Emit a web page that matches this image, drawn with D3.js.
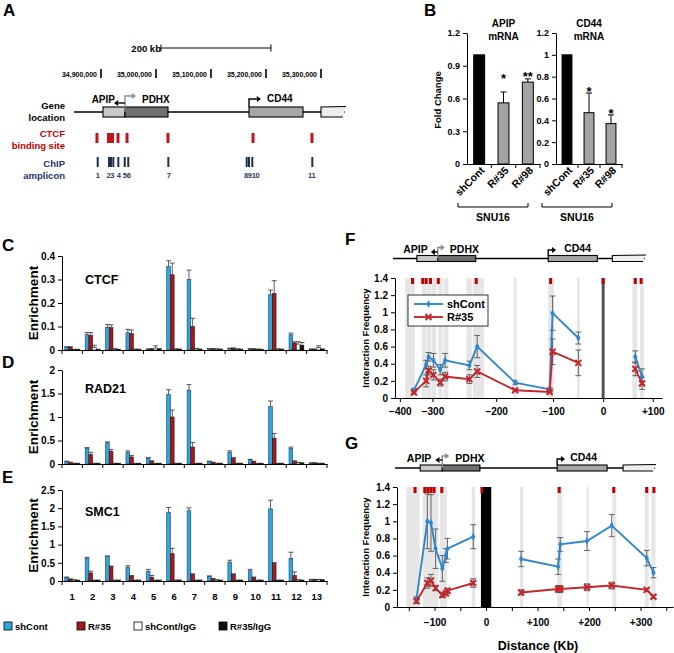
<!DOCTYPE html>
<html><head><meta charset="utf-8">
<script src="https://cdn.jsdelivr.net/npm/d3@7/dist/d3.min.js"></script>
<style>html,body{margin:0;padding:0;background:#fff;}svg{display:block;}</style>
</head><body>
<svg id="fig" width="674" height="653" xmlns="http://www.w3.org/2000/svg"></svg>
<script>
// ================= DATA =================
// Panel A : genomic map (bp)
const coordTicks = [34900000, 35000000, 35100000, 35200000, 35300000];
const scaleBarKb = 200;
const scaleBarStart = 35009000;
const geneNames = ["APIP", "PDHX", "CD44", ""];
const geneStart = [34903600, 34943600, 35169100, 35300000];
const geneEnd = [34943600, 35021800, 35267300, 35343600];
const locusSpan = [34850900, 35343600];
const ctcfSites = [34892700, 34913600, 34917300, 34921000, 34930900, 34947300, 35021800, 35176400, 35283600];
const ampliconPos = [34894000, 34914500, 34918200, 34922400, 34931500, 34943100, 34949600, 35022400, 35164900, 35169100, 35175100, 35284200];
const ampliconLabels = ["1", "23", "4", "56", "7", "8910", "11"];
const ampliconLabelPos = [34894000, 34917000, 34932000, 34946800, 35023000, 35174000, 35283000];

// Panel B : mRNA fold change
const bSamples = ["shCont", "R#35", "R#98"];
const apipFold = [1.0, 0.56, 0.75];
const apipErr = [0, 0.10, 0.03];
const apipSig = ["", "*", "**"];
const apipSigAt = [0, 0.80, 0.815];
const apipTicks = [0, 0.3, 0.6, 0.9, 1.2];
const cd44Fold = [1.0, 0.47, 0.37];
const cd44Err = [0, 0.18, 0.08];
const cd44Sig = ["", "*", "*"];
const cd44SigAt = [0, 0.68, 0.48];
const cd44Ticks = [0, 0.2, 0.4, 0.6, 0.8, 1.0, 1.2];
const cellLine = "SNU16";

// Panels C-E : ChIP enrichment at 13 amplicons
const groups = ["1", "2", "3", "4", "5", "6", "7", "8", "9", "10", "11", "12", "13"];
const seriesNames = ["shCont", "R#35", "shCont/IgG", "R#35/IgG"];
const ctcfTicks = [0, 0.1, 0.2, 0.3, 0.4];
const ctcfShCont = [0.012, 0.065, 0.097, 0.073, 0.003, 0.355, 0.300, 0.005, 0.006, 0.005, 0.235, 0.065, 0.003];
const ctcfShContErr = [0.002, 0.010, 0.012, 0.015, 0.002, 0.025, 0.040, 0.001, 0.002, 0.001, 0.020, 0.007, 0.002];
const ctcfR35 = [0.012, 0.062, 0.095, 0.070, 0.004, 0.320, 0.100, 0.005, 0.007, 0.004, 0.240, 0.030, 0.003];
const ctcfR35Err = [0.002, 0.012, 0.012, 0.015, 0.002, 0.050, 0.035, 0.001, 0.002, 0.001, 0.055, 0.005, 0.001];
const ctcfShContIgG = [0.002, 0.010, 0.004, 0.003, 0.008, 0.004, 0.005, 0.004, 0.004, 0.003, 0.004, 0.025, 0.010];
const ctcfShContIgGErr = [0.001, 0.010, 0.002, 0.001, 0.010, 0.001, 0.002, 0.001, 0.001, 0.001, 0.001, 0.010, 0.008];
const ctcfR35IgG = [0.002, 0.002, 0.002, 0.002, 0.004, 0.003, 0.003, 0.003, 0.003, 0.002, 0.003, 0.020, 0.003];
const ctcfR35IgGErr = [0.001, 0.001, 0.001, 0.001, 0.002, 0.001, 0.001, 0.001, 0.001, 0.001, 0.001, 0.012, 0.002];

const rad21Ticks = [0, 0.5, 1, 1.5, 2];
const rad21ShCont = [0.05, 0.33, 0.45, 0.25, 0.12, 1.48, 1.57, 0.05, 0.25, 0.09, 1.22, 0.33, 0.02];
const rad21ShContErr = [0.01, 0.02, 0.02, 0.03, 0.02, 0.10, 0.12, 0.01, 0.03, 0.01, 0.12, 0.03, 0.005];
const rad21R35 = [0.03, 0.20, 0.27, 0.15, 0.05, 1.00, 0.36, 0.03, 0.12, 0.05, 0.55, 0.05, 0.02];
const rad21R35Err = [0.01, 0.05, 0.04, 0.03, 0.02, 0.15, 0.10, 0.01, 0.02, 0.01, 0.10, 0.02, 0.005];
const rad21ShContIgG = [0.01, 0.01, 0.01, 0.01, 0.01, 0.01, 0.01, 0.01, 0.01, 0.01, 0.01, 0.03, 0.01];
const rad21ShContIgGErr = [0.005, 0.005, 0.005, 0.005, 0.005, 0.005, 0.005, 0.005, 0.005, 0.005, 0.005, 0.005, 0.005];
const rad21R35IgG = [0.01, 0.01, 0.01, 0.01, 0.01, 0.01, 0.01, 0.01, 0.01, 0.01, 0.01, 0.02, 0.01];
const rad21R35IgGErr = [0.005, 0.005, 0.005, 0.005, 0.005, 0.005, 0.005, 0.005, 0.005, 0.005, 0.005, 0.005, 0.005];

const smc1Ticks = [0, 0.5, 1, 1.5, 2, 2.5];
const smc1ShCont = [0.10, 0.63, 0.68, 0.38, 0.26, 1.88, 1.93, 0.13, 0.52, 0.28, 1.98, 0.62, 0.04];
const smc1ShContErr = [0.01, 0.02, 0.01, 0.04, 0.06, 0.14, 0.08, 0.01, 0.05, 0.04, 0.24, 0.17, 0.005];
const smc1R35 = [0.05, 0.22, 0.40, 0.14, 0.10, 0.75, 0.18, 0.06, 0.18, 0.10, 0.48, 0.15, 0.04];
const smc1R35Err = [0.01, 0.05, 0.01, 0.01, 0.05, 0.15, 0.02, 0.01, 0.02, 0.01, 0.03, 0.10, 0.005];
const smc1ShContIgG = [0.03, 0.02, 0.02, 0.02, 0.02, 0.02, 0.02, 0.03, 0.02, 0.02, 0.02, 0.03, 0.04];
const smc1ShContIgGErr = [0.005, 0.005, 0.005, 0.005, 0.005, 0.005, 0.005, 0.005, 0.005, 0.005, 0.005, 0.005, 0.005];
const smc1R35IgG = [0.02, 0.02, 0.02, 0.02, 0.02, 0.02, 0.02, 0.02, 0.02, 0.02, 0.02, 0.02, 0.03];
const smc1R35IgGErr = [0.005, 0.005, 0.005, 0.005, 0.005, 0.005, 0.005, 0.005, 0.005, 0.005, 0.005, 0.005, 0.005];

// Panels F-G : 3C interaction frequency (distance in kb from anchor)
const interTicks = [0, 0.2, 0.4, 0.6, 0.8, 1.0, 1.2, 1.4];
// F axis labels sit where the original figure put them (kb)
const fTickLabels = ["\u2212400", "\u2212300", "\u2212200", "\u2212100", "0", "+100"];
const fTickAt = [-418, -351, -220, -103, 0, 102];
const fKb = [-389, -364, -359, -349, -335, -325, -275, -259, -181, -110, -104, -51, 66, 80];
const fShCont = [0.09, 0.39, 0.48, 0.44, 0.33, 0.44, 0.38, 0.60, 0.18, 0.10, 0.99, 0.70, 0.48, 0.25];
const fShContErr = [0.02, 0.05, 0.05, 0.08, 0.06, 0.08, 0.05, 0.13, 0.02, 0.02, 0.20, 0.07, 0.07, 0.09];
const fR35 = [0.065, 0.20, 0.32, 0.27, 0.18, 0.25, 0.22, 0.31, 0.09, 0.07, 0.54, 0.41, 0.34, 0.17];
const fR35Err = [0.02, 0.07, 0.05, 0.06, 0.04, 0.05, 0.05, 0.07, 0.01, 0.01, 0.15, 0.15, 0.08, 0.07];
const fBandStart = [-407, -373, -362, -352, -339, -328, -281, -268, -184, -113, -54, 60, 76];
const fBandEnd = [-387, -363, -353, -343, -330, -318, -270, -245, -178, -101, -48, 70, 84];
const fCtcfMarks = [-392, -371, -364, -355, -339, -261, -108, 0, 66, 78];
const fGeneStart = [-383, -340, -113, 19];
const fGeneEnd = [-340, -262, -12, 86];
const fLocus = [-432, 86];

const gXTicks = [-150, -100, -50, 0, 50, 100, 150, 200, 250, 300, 350];
const gKb = [-135, -114, -107, -98, -85, -78, -75, -25, 68, 140, 144, 196, 244, 312, 325];
const gShCont = [0.10, 1.00, 0.98, 0.68, 0.45, 0.60, 0.68, 0.82, 0.56, 0.47, 0.73, 0.77, 0.95, 0.57, 0.40];
const gShContErr = [0.02, 0.32, 0.33, 0.23, 0.15, 0.08, 0.12, 0.14, 0.09, 0.09, 0.08, 0.11, 0.13, 0.09, 0.06];
const gR35 = [0.07, 0.28, 0.31, 0.22, 0.14, 0.16, 0.19, 0.28, 0.17, 0.21, 0.21, 0.23, 0.25, 0.20, 0.12];
const gR35Err = [0.03, 0.06, 0.07, 0.03, 0.03, 0.03, 0.03, 0.05, 0.03, 0.04, 0.04, 0.04, 0.04, 0.02, 0.02];
const gBandStart = [-155, -123, -90, -28, 66, 138, 195, 245, 308, 321];
const gBandEnd = [-129, -93, -76, -21, 72, 148, 199, 253, 316, 329];
const gCtcfMarks = [-138, -119, -113, -107, -101, -86, -8, 142, 248, 312, 326];
const gAnchorSpan = [-10, 10];
const gGeneStart = [-128, -85, 138, 266];
const gGeneEnd = [-85, -12, 235, 328];
const gLocus = [-177, 328];

// ================= DRAWING =================
const svg = d3.select("#fig");
const FONT = '"Liberation Sans", Arial, Helvetica, sans-serif';
const BLUE = "#2ea7df", RED = "#9e1b20";
const LBLUE = "#2f86cb", LRED = "#c4262c";

function txt(g, x, y, s, o = {}) {
  const t = g.append("text").attr("x", x).attr("y", y).text(s)
    .attr("font-family", FONT).attr("font-size", o.size || 10)
    .attr("font-weight", o.weight || "bold").attr("fill", o.fill || "#000")
    .attr("text-anchor", o.anchor || "start");
  if (o.rot != null) t.attr("transform", `rotate(${o.rot},${x},${y})`);
  return t;
}
function arrow(g, pts, color, hs = 3) {
  const n = pts.length, [x1, y1] = pts[n - 1], [x0, y0] = pts[n - 2];
  const a = Math.atan2(y1 - y0, x1 - x0);
  const bx = x1 - hs * 1.4 * Math.cos(a), by = y1 - hs * 1.4 * Math.sin(a);
  g.append("path").attr("d", d3.line()(pts.slice(0, n - 1).concat([[bx, by]])))
    .attr("fill", "none").attr("stroke", color).attr("stroke-width", 1.4);
  const px = -Math.sin(a) * hs, py = Math.cos(a) * hs;
  g.append("path").attr("d", `M${x1},${y1}L${bx + px},${by + py}L${bx - px},${by - py}Z`).attr("fill", color);
}
function styleAxis(sel, size) {
  sel.selectAll("text").attr("font-family", FONT).attr("font-weight", "bold").attr("font-size", size).attr("fill", "#000");
  sel.selectAll("line,path").attr("stroke", "#000").attr("stroke-width", 1);
}
const geneFill = ["#c9c9c9", "#6f6f6f", "#a6a6a6", "#eeeeee"];
function schematic(g, x, o) {
  const yc = o.yc, bh = o.bh, top = yc - bh / 2, bot = yc + bh / 2;
  g.append("line").attr("x1", x(o.span[0])).attr("x2", x(o.span[1])).attr("y1", yc).attr("y2", yc)
    .attr("stroke", "#000").attr("stroke-width", 1.3);
  for (let i = 0; i < 3; i++) {
    g.append("rect").attr("x", x(o.starts[i])).attr("y", top).attr("width", x(o.ends[i]) - x(o.starts[i]))
      .attr("height", bh).attr("fill", geneFill[i]).attr("stroke", "#000").attr("stroke-width", 1.1);
  }
  const x0 = x(o.starts[3]), x1 = x(o.ends[3]);
  g.append("path").attr("d", `M${x0},${top}L${x1 + 1},${top - 0.5}L${x1 - 2},${bot}L${x0},${bot}Z`).attr("fill", geneFill[3]);
  g.append("path").attr("d", `M${x1 + 1},${top - 0.5}L${x0},${top}L${x0},${bot}L${x1 - 2},${bot}`)
    .attr("fill", "none").attr("stroke", "#000").attr("stroke-width", 1.1);
  const j = x(o.ends[0]);
  arrow(g, [[j, yc], [j, yc - o.hGray], [j + o.len, yc - o.hGray]], "#8a8a8a");
  arrow(g, [[j, yc - o.hBlack], [j - o.len, yc - o.hBlack]], "#000");
  const c = x(o.starts[2]);
  arrow(g, [[c, top], [c, yc - o.hCD], [c + o.len + 1, yc - o.hCD]], "#000");
  txt(g, j - o.offA, o.labelY, geneNames[0], { size: o.size, anchor: "end" });
  txt(g, j + o.offP, o.labelY, geneNames[1], { size: o.size });
  txt(g, c + o.offC, o.labelY - 1, geneNames[2], { size: o.size });
}

// ---------- Panel A ----------
(function () {
  const g = svg.append("g");
  txt(g, 3, 16, "A", { size: 17 });
  const x = d3.scaleLinear().domain([coordTicks[0], coordTicks[coordTicks.length - 1]]).range([101, 321]);
  const s0 = x(scaleBarStart), s1 = x(scaleBarStart + scaleBarKb * 1000);
  g.append("path").attr("d", `M${s0},44.5V51.5M${s0},48H${s1}M${s1},44.5V51.5`).attr("stroke", "#000").attr("stroke-width", 1).attr("fill", "none");
  txt(g, s0, 52, scaleBarKb + " kb", { size: 9.5, anchor: "end" });
  coordTicks.forEach(v => {
    g.append("rect").attr("x", x(v) - 0.8).attr("y", 69).attr("width", 1.6).attr("height", 9).attr("fill", "#000");
    txt(g, x(v) - 4, 77, d3.format(",")(v), { size: 7, anchor: "end" });
  });
  txt(g, 65, 109, "Gene", { size: 9.5, anchor: "end" });
  txt(g, 65, 121, "location", { size: 9.5, anchor: "end" });
  schematic(g, x, { yc: 112, bh: 10, span: locusSpan, starts: geneStart, ends: geneEnd,
    hGray: 16, hBlack: 9, len: 11, hCD: 13, offA: 10, offP: 17, offC: 18, labelY: 103, size: 10 });
  txt(g, 65, 137, "CTCF", { size: 9.5, anchor: "end", fill: "#c00000" });
  txt(g, 65, 149, "binding site", { size: 9.5, anchor: "end", fill: "#c00000" });
  ctcfSites.forEach(s => g.append("rect").attr("x", x(s) - 1.5).attr("y", 133).attr("width", 3).attr("height", 10).attr("fill", "#c0161c"));
  txt(g, 65, 167, "ChIP", { size: 9.5, anchor: "end", fill: "#1f3864" });
  txt(g, 65, 179, "amplicon", { size: 9.5, anchor: "end", fill: "#1f3864" });
  ampliconPos.forEach(s => g.append("rect").attr("x", x(s) - 1).attr("y", 157).attr("width", 2).attr("height", 10).attr("fill", "#1c2e4d"));
  ampliconLabels.forEach((l, i) => txt(g, x(ampliconLabelPos[i]), 178, l, { size: 7.5, anchor: "middle", fill: "#1f3864" })
    .attr("letter-spacing", -0.3));
})();

// ---------- Panel B ----------
(function () {
  const g = svg.append("g");
  txt(g, 424, 16, "B", { size: 17 });
  const y = d3.scaleLinear().domain([0, 1.2]).range([164, 33]);
  function chart(x0, x1, vals, errs, sig, sigAt, ticks, title) {
    const x = d3.scaleBand().domain(bSamples).range([x0, x1]).paddingInner(0.55).paddingOuter(0.275);
    vals.forEach((v, i) => {
      const bx = x(bSamples[i]), cx = bx + x.bandwidth() / 2;
      g.append("rect").attr("x", bx).attr("y", y(v)).attr("width", x.bandwidth()).attr("height", y(0) - y(v))
        .attr("fill", i === 0 ? "#000" : "#a3a3a3").attr("stroke", "#000").attr("stroke-width", 1);
      if (errs[i] > 0) {
        g.append("path").attr("d", `M${cx},${y(v)}V${y(v + errs[i])}M${cx - 3},${y(v + errs[i])}H${cx + 3}`)
          .attr("stroke", "#000").attr("stroke-width", 1).attr("fill", "none");
      }
      if (sig[i]) txt(g, cx, y(sigAt[i]) + 6, sig[i], { size: 13, anchor: "middle" });
      txt(g, cx + 6, 171, bSamples[i], { size: 10.5, anchor: "end", rot: -45 });
    });
    const ya = g.append("g").attr("transform", `translate(${x0},0)`)
      .call(d3.axisLeft(y).tickValues(ticks).tickSize(4).tickSizeOuter(0).tickPadding(3).tickFormat(d3.format("~g")));
    styleAxis(ya, 9);
    const xa = g.append("g").attr("transform", `translate(0,${y(0)})`)
      .call(d3.axisBottom(x).tickSize(0).tickSizeOuter(0).tickFormat(() => ""));
    styleAxis(xa, 9);
    const st = x.step();
    [1, 2, 3].forEach(k => g.append("line").attr("x1", x0 + st * k).attr("x2", x0 + st * k).attr("y1", y(0)).attr("y2", y(0) + 4).attr("stroke", "#000"));
    const cxm = (x(bSamples[0]) + x(bSamples[2]) + x.bandwidth()) / 2;
    txt(g, cxm, 27, title, { size: 10, anchor: "middle" });
    txt(g, cxm, 40, "mRNA", { size: 10, anchor: "middle" });
  }
  chart(467, 540, apipFold, apipErr, apipSig, apipSigAt, apipTicks, "APIP");
  chart(556, 622, cd44Fold, cd44Err, cd44Sig, cd44SigAt, cd44Ticks, "CD44");
  txt(g, 441, 100, "Fold Change", { size: 9.5, anchor: "middle", rot: -90 });
  [[458, 528], [542, 612]].forEach(([a, b]) => {
    g.append("path").attr("d", `M${a},203V207H${b}V203`).attr("stroke", "#000").attr("stroke-width", 1).attr("fill", "none");
    txt(g, (a + b) / 2, 221, cellLine, { size: 10.5, anchor: "middle" });
  });
})();

// ---------- Panels C-E ----------
const ceX = d3.scaleBand().domain(groups).range([62, 327]);
const ceInner = d3.scaleBand().domain(seriesNames).range([0, ceX.bandwidth()]).paddingOuter(0.76);
const seriesFill = [BLUE, RED, "#ffffff", "#111111"];
const seriesStroke = ["#1d3c58", "#3a0a0a", "#222222", "#000000"];
function drawEnrich(o) {
  const g = svg.append("g");
  const y = d3.scaleLinear().domain([0, o.ticks[o.ticks.length - 1]]).range([o.y0, o.y1]);
  txt(g, 2, o.letterY, o.letter, { size: 17 });
  txt(g, 85, o.titleY, o.title, { size: 12.5 });
  txt(g, 38, (o.y0 + o.y1) / 2, "Enrichment", { size: 13.5, anchor: "middle", rot: -90 });
  o.vals.forEach((arr, si) => {
    arr.forEach((v, gi) => {
      const bx = ceX(groups[gi]) + ceInner(seriesNames[si]), w = ceInner.bandwidth(), cx = bx + w / 2;
      g.append("rect").attr("x", bx).attr("y", y(v)).attr("width", w).attr("height", Math.max(0, o.y0 - y(v)))
        .attr("fill", seriesFill[si]).attr("stroke", seriesStroke[si]).attr("stroke-width", 0.6);
      const e = o.errs[si][gi];
      g.append("path").attr("d", `M${cx},${y(v)}V${y(v + e)}M${cx - 2.5},${y(v + e)}H${cx + 2.5}`)
        .attr("stroke", "#333").attr("stroke-width", 0.8).attr("fill", "none");
    });
  });
  const ya = g.append("g").attr("transform", "translate(62,0)")
    .call(d3.axisLeft(y).tickValues(o.ticks).tickSize(4).tickSizeOuter(0).tickPadding(3).tickFormat(d3.format("~g")));
  styleAxis(ya, 10);
  const xa = g.append("g").attr("transform", `translate(0,${o.y0})`)
    .call(d3.axisBottom(ceX).tickSize(0).tickSizeOuter(0).tickPadding(12).tickFormat(o.showX ? (d => d) : (() => "")));
  styleAxis(xa, 9.5);
  d3.range(groups.length + 1).forEach(k => {
    const xx = 62 + k * ceX.step();
    g.append("line").attr("x1", xx).attr("x2", xx).attr("y1", o.y0).attr("y2", o.y0 + 4).attr("stroke", "#000");
  });
}
drawEnrich({ letter: "C", letterY: 251, title: "CTCF", titleY: 284, ticks: ctcfTicks, y0: 350, y1: 256,
  vals: [ctcfShCont, ctcfR35, ctcfShContIgG, ctcfR35IgG], errs: [ctcfShContErr, ctcfR35Err, ctcfShContIgGErr, ctcfR35IgGErr] });
drawEnrich({ letter: "D", letterY: 368, title: "RAD21", titleY: 393, ticks: rad21Ticks, y0: 464, y1: 370,
  vals: [rad21ShCont, rad21R35, rad21ShContIgG, rad21R35IgG], errs: [rad21ShContErr, rad21R35Err, rad21ShContIgGErr, rad21R35IgGErr] });
drawEnrich({ letter: "E", letterY: 483, title: "SMC1", titleY: 516, ticks: smc1Ticks, y0: 581, y1: 490, showX: true,
  vals: [smc1ShCont, smc1R35, smc1ShContIgG, smc1R35IgG], errs: [smc1ShContErr, smc1R35Err, smc1ShContIgGErr, smc1R35IgGErr] });
// legend
(function () {
  const g = svg.append("g");
  const lx = [4, 77, 134, 219];
  seriesNames.forEach((s, i) => {
    g.append("rect").attr("x", lx[i]).attr("y", 622).attr("width", 8).attr("height", 8)
      .attr("fill", seriesFill[i]).attr("stroke", "#000").attr("stroke-width", 0.8);
    txt(g, lx[i] + 11, 630, s, { size: 9.5 });
  });
})();

// ---------- Panels F-G ----------
function kbFmt(d) { return d === 0 ? "0" : (d < 0 ? "\u2212" + (-d) : "+" + d); }
function xMark(g, cx, cy, r, color) {
  g.append("path").attr("d", `M${cx - r},${cy - r}L${cx + r},${cy + r}M${cx - r},${cy + r}L${cx + r},${cy - r}`)
    .attr("stroke", color).attr("stroke-width", 2).attr("fill", "none");
}
function drawInter(o) {
  const g = svg.append("g");
  const x = o.x;
  const y = d3.scaleLinear().domain([0, 1.4]).range([o.y0, o.y1]);
  txt(g, 345, o.letterY, o.letter, { size: 17 });
  schematic(g, x, o.schem);
  o.bandStart.forEach((s, i) => g.append("rect").attr("x", x(s)).attr("y", o.y1).attr("width", x(o.bandEnd[i]) - x(s))
    .attr("height", o.y0 - o.y1).attr("fill", "#e6e6e6"));
  if (o.anchorSpan) {
    g.append("rect").attr("x", x(o.anchorSpan[0])).attr("y", o.y1).attr("width", x(o.anchorSpan[1]) - x(o.anchorSpan[0]))
      .attr("height", o.y0 - o.y1).attr("fill", "#000");
  } else {
    g.append("rect").attr("x", x(0) - 1.5).attr("y", o.y1).attr("width", 3).attr("height", o.y0 - o.y1).attr("fill", "#555");
  }
  o.marks.forEach(m => g.append("rect").attr("x", x(m) - 1.5).attr("y", o.y1).attr("width", 3).attr("height", 6).attr("fill", "#c00000"));
  const ya = g.append("g").attr("transform", `translate(${x.range()[0]},0)`)
    .call(d3.axisLeft(y).tickValues(interTicks).tickSize(4).tickSizeOuter(0).tickPadding(3).tickFormat(d3.format("~g")));
  styleAxis(ya, 10);
  const xa = g.append("g").attr("transform", `translate(0,${o.y0})`)
    .call(d3.axisBottom(x).tickValues(o.xTicks).tickSize(4).tickSizeOuter(0).tickPadding(o.pad).tickFormat(o.xFmt));
  styleAxis(xa, 10);
  txt(g, 369, (o.y0 + o.y1) / 2, "Interaction Frequency", { size: 9.5, anchor: "middle", rot: -90 });
  const series = [
    { vals: o.sh, errs: o.shE, color: LBLUE, mk: "d" },
    { vals: o.r, errs: o.rE, color: LRED, mk: "x" }
  ];
  series.forEach(s => {
    const pts = o.kb.map((k, i) => ({ k, v: s.vals[i], e: s.errs[i] }));
    pts.forEach(p => {
      const cx = x(p.k);
      g.append("path").attr("d", `M${cx},${y(p.v - p.e)}V${y(p.v + p.e)}M${cx - 3},${y(p.v + p.e)}H${cx + 3}M${cx - 3},${y(p.v - p.e)}H${cx + 3}`)
        .attr("stroke", "#444").attr("stroke-width", 0.8).attr("fill", "none");
    });
  });
  series.forEach(s => {
    const pts = o.kb.map((k, i) => ({ k, v: s.vals[i] }));
    const segs = [pts.filter(p => p.k < 0), pts.filter(p => p.k > 0)];
    const line = d3.line().x(p => x(p.k)).y(p => y(p.v));
    segs.forEach(seg => g.append("path").attr("d", line(seg)).attr("fill", "none").attr("stroke", s.color).attr("stroke-width", 1.9));
    pts.forEach(p => {
      if (s.mk === "d") g.append("path").attr("d", d3.symbol(d3.symbolDiamond, 16)()).attr("transform", `translate(${x(p.k)},${y(p.v)})`).attr("fill", s.color);
      else xMark(g, x(p.k), y(p.v), 3, s.color);
    });
  });
  if (o.legend) {
    const lg = g.append("g");
    lg.append("rect").attr("x", 408).attr("y", 295).attr("width", 80).attr("height", 31).attr("fill", "#fff").attr("stroke", "#000").attr("stroke-width", 0.8);
    lg.append("line").attr("x1", 414).attr("x2", 443).attr("y1", 304).attr("y2", 304).attr("stroke", LBLUE).attr("stroke-width", 1.9);
    lg.append("path").attr("d", d3.symbol(d3.symbolDiamond, 16)()).attr("transform", "translate(428.5,304)").attr("fill", LBLUE);
    txt(lg, 447, 308, "shCont", { size: 11 });
    lg.append("line").attr("x1", 414).attr("x2", 443).attr("y1", 317).attr("y2", 317).attr("stroke", LRED).attr("stroke-width", 1.9);
    xMark(lg, 428.5, 317, 3, LRED);
    txt(lg, 447, 321, "R#35", { size: 11 });
  }
}
drawInter({
  letter: "F", letterY: 245,
  x: d3.scaleLinear().domain([-428, 121]).range([395, 662]),
  y0: 398, y1: 278, xTicks: fTickAt, pad: 6, xFmt: (d, i) => fTickLabels[i],
  kb: fKb, sh: fShCont, shE: fShContErr, r: fR35, rE: fR35Err,
  bandStart: fBandStart, bandEnd: fBandEnd, marks: fCtcfMarks, legend: true,
  schem: { yc: 258.5, bh: 6, span: fLocus, starts: fGeneStart, ends: fGeneEnd,
    hGray: 11, hBlack: 6.5, len: 7, hCD: 8.5, offA: 10, offP: 12, offC: 16, labelY: 253, size: 10.5 }
});
drawInter({
  letter: "G", letterY: 449,
  x: d3.scaleLinear().domain([-173, 363]).range([397, 673]),
  y0: 607, y1: 487, xTicks: gXTicks, pad: 8, xFmt: d => d % 100 === 0 ? kbFmt(d) : "",
  kb: gKb, sh: gShCont, shE: gShContErr, r: gR35, rE: gR35Err,
  bandStart: gBandStart, bandEnd: gBandEnd, marks: gCtcfMarks, anchorSpan: gAnchorSpan, legend: false,
  schem: { yc: 468, bh: 6, span: gLocus, starts: gGeneStart, ends: gGeneEnd,
    hGray: 12, hBlack: 8, len: 7, hCD: 9, offA: 11, offP: 13, offC: 13, labelY: 462, size: 10.5 }
});
txt(svg, 538, 650, "Distance (Kb)", { size: 12.5, anchor: "middle" });
</script>
</body></html>
